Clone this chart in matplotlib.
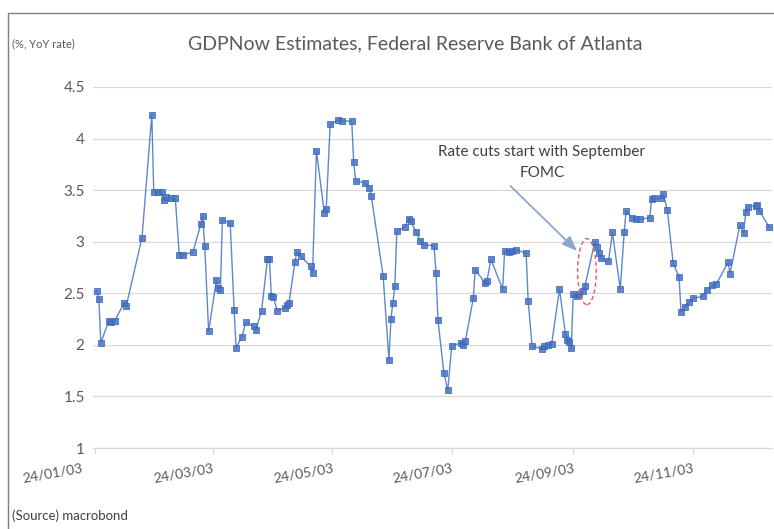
import matplotlib
matplotlib.use("Agg")
import matplotlib.pyplot as plt
import matplotlib.dates as mdates
import matplotlib.transforms as mtransforms
from matplotlib.patches import Ellipse, Rectangle
from datetime import datetime
import pandas as pd

plt.rcParams['font.family'] = ['Lato', 'DejaVu Sans']

dates = [
    "2024-01-04", "2024-01-05", "2024-01-06", "2024-01-10", "2024-01-11", "2024-01-13",
    "2024-01-18", "2024-01-19", "2024-01-27", "2024-02-01", "2024-02-02", "2024-02-04",
    "2024-02-06", "2024-02-07", "2024-02-08", "2024-02-11", "2024-02-13", "2024-02-15",
    "2024-02-17", "2024-02-22", "2024-02-26", "2024-02-27", "2024-02-28", "2024-03-01",
    "2024-03-05", "2024-03-06", "2024-03-07", "2024-03-08", "2024-03-12", "2024-03-14",
    "2024-03-15", "2024-03-18", "2024-03-20", "2024-03-24", "2024-03-25", "2024-03-28",
    "2024-03-31", "2024-04-01", "2024-04-02", "2024-04-03", "2024-04-05", "2024-04-09",
    "2024-04-10", "2024-04-11", "2024-04-14", "2024-04-15", "2024-04-17", "2024-04-22",
    "2024-04-23", "2024-04-25", "2024-04-29", "2024-04-30", "2024-05-02", "2024-05-06",
    "2024-05-08", "2024-05-13", "2024-05-14", "2024-05-15", "2024-05-20", "2024-05-22",
    "2024-05-23", "2024-05-29", "2024-06-01", "2024-06-02", "2024-06-03", "2024-06-04",
    "2024-06-05", "2024-06-09", "2024-06-11", "2024-06-12", "2024-06-15", "2024-06-17",
    "2024-06-19", "2024-06-24", "2024-06-25", "2024-06-26", "2024-06-29", "2024-07-01",
    "2024-07-03", "2024-07-08", "2024-07-09", "2024-07-10", "2024-07-14", "2024-07-15",
    "2024-07-20", "2024-07-21", "2024-07-23", "2024-07-29", "2024-07-30", "2024-08-01",
    "2024-08-03", "2024-08-05", "2024-08-10", "2024-08-11", "2024-08-13", "2024-08-18",
    "2024-08-19", "2024-08-21", "2024-08-23", "2024-08-27", "2024-08-30", "2024-08-31",
    "2024-09-01", "2024-09-02", "2024-09-03", "2024-09-05", "2024-09-06", "2024-09-08",
    "2024-09-09", "2024-09-14", "2024-09-15", "2024-09-16", "2024-09-17", "2024-09-21",
    "2024-09-23", "2024-09-27", "2024-09-29", "2024-09-30", "2024-10-03", "2024-10-05",
    "2024-10-07", "2024-10-12", "2024-10-13", "2024-10-14", "2024-10-18", "2024-10-19",
    "2024-10-21", "2024-10-24", "2024-10-27", "2024-10-28", "2024-10-30", "2024-11-01",
    "2024-11-03", "2024-11-08", "2024-11-10", "2024-11-13", "2024-11-15", "2024-11-21",
    "2024-11-22", "2024-11-27", "2024-11-29", "2024-11-30", "2024-12-01", "2024-12-05",
    "2024-12-06", "2024-12-07", "2024-12-12",
]
gdpnow = [
    2.52, 2.44, 2.02, 2.23, 2.22, 2.23,
    2.41, 2.38, 3.04, 4.23, 3.48, 3.48,
    3.48, 3.40, 3.43, 3.42, 3.42, 2.87,
    2.87, 2.90, 3.17, 3.25, 2.96, 2.13,
    2.63, 2.55, 2.53, 3.21, 3.18, 2.34,
    1.97, 2.08, 2.22, 2.18, 2.14, 2.33,
    2.83, 2.83, 2.47, 2.46, 2.33, 2.36,
    2.39, 2.41, 2.80, 2.90, 2.86, 2.76,
    2.70, 3.88, 3.28, 3.32, 4.14, 4.18,
    4.17, 4.17, 3.77, 3.59, 3.57, 3.52,
    3.44, 2.67, 1.85, 2.25, 2.41, 2.57,
    3.10, 3.14, 3.22, 3.20, 3.09, 3.01,
    2.97, 2.96, 2.70, 2.24, 1.73, 1.56,
    1.99, 2.02, 2.00, 2.04, 2.45, 2.73,
    2.60, 2.62, 2.83, 2.54, 2.91, 2.90,
    2.91, 2.92, 2.89, 2.43, 1.99, 1.96,
    1.99, 2.00, 2.01, 2.54, 2.11, 2.05,
    2.03, 1.97, 2.49, 2.47, 2.49, 2.52,
    2.57, 3.00, 2.95, 2.89, 2.84, 2.81,
    3.09, 2.54, 3.09, 3.30, 3.23, 3.22,
    3.22, 3.23, 3.41, 3.42, 3.42, 3.46,
    3.31, 2.79, 2.66, 2.32, 2.37, 2.42,
    2.45, 2.47, 2.53, 2.58, 2.59, 2.80,
    2.69, 3.16, 3.08, 3.29, 3.34, 3.35,
    3.36, 3.30, 3.14,
]
tick_dates = ["2024-01-03", "2024-03-03", "2024-05-03", "2024-07-03", "2024-09-03", "2024-11-03"]
y_ticks = [1, 1.5, 2, 2.5, 3, 3.5, 4, 4.5]
y_labels = ["1", "1.5", "2", "2.5", "3", "3.5", "4", "4.5"]

title = "GDPNow Estimates, Federal Reserve Bank of Atlanta"
unit_label = "(%, YoY rate)"
source_label = "(Source) macrobond"
note = "Rate cuts start with September\nFOMC"
note_pos = ("2024-08-18", 3.77)
arrow_start = ("2024-08-02", 3.54)
arrow_end = ("2024-09-05", 2.91)
ellipse_center = ("2024-09-10", 2.71)

x = pd.to_datetime(dates)
W, H = 774, 529
fig = plt.figure(figsize=(W / 100, H / 100), dpi=100)
fig.patch.set_facecolor("white")

ax = fig.add_axes([93 / W, 1 - 448 / H, (772 - 93) / W, (448 - 87) / H])
ax.plot(x, gdpnow, color="#4472C4", lw=1.0, alpha=0.85,
        marker="s", markersize=3.8, markerfacecolor="#4472C4",
        markeredgecolor="#3A64B4", markeredgewidth=0.6, zorder=3)

ax.set_ylim(1, 4.5)
ax.set_xlim(mdates.date2num(datetime(2024, 1, 2)), mdates.date2num(datetime(2024, 12, 13, 10)))
ax.set_yticks(y_ticks)
ax.set_yticklabels(y_labels)
ax.yaxis.grid(True, color="#D9D9D9", lw=0.9)
ax.set_axisbelow(True)
for s in ["top", "right", "left"]:
    ax.spines[s].set_visible(False)
ax.spines["bottom"].set_color("#D9D9D9")
ax.spines["bottom"].set_linewidth(0.9)
ax.tick_params(axis="y", length=0, pad=6, labelsize=11, labelcolor="#595959")

tx = pd.to_datetime(tick_dates)
tick_texts = [d.strftime("%y/%m/%d") for d in tx]
ax.set_xticks(tx)
ax.set_xticklabels([""] + tick_texts[1:], rotation=10, ha="right", rotation_mode="anchor")
ax.tick_params(axis="x", length=4, color="#D9D9D9", pad=6, labelsize=10, labelcolor="#595959")
# first label sits a little left of its tick in the reference
first_tr = ax.get_xaxis_transform() + mtransforms.ScaledTranslation(-14 / 100, -14 / 100, fig.dpi_scale_trans)
ax.text(mdates.date2num(tx[0]), 0, tick_texts[0], transform=first_tr, rotation=10,
        ha="right", va="top", rotation_mode="anchor", fontsize=10, color="#595959")

# annotation
ex = mdates.date2num(pd.to_datetime(ellipse_center[0]))
ell = Ellipse((ex, ellipse_center[1]), width=9.5, height=0.64, fill=False,
              edgecolor="#EE5A4F", lw=1.0, ls=(0, (3, 2)), zorder=4)
ax.add_patch(ell)
ax.annotate("", xy=(mdates.date2num(pd.to_datetime(arrow_end[0])), arrow_end[1]),
            xytext=(mdates.date2num(pd.to_datetime(arrow_start[0])), arrow_start[1]),
            arrowprops=dict(arrowstyle="-|>,head_length=0.9,head_width=0.35",
                            color="#8EA5D0", lw=1.3, shrinkA=0, shrinkB=0), zorder=5)
ax.text(mdates.date2num(pd.to_datetime(note_pos[0])), note_pos[1], note, ha="center", va="center",
        fontsize=11, color="#404040", linespacing=1.6)

fig.text(415 / W, 1 - 44 / H, title, ha="center", va="center", fontsize=14, color="#595959")
fig.text(12 / W, 1 - 44 / H, unit_label, ha="left", va="center", fontsize=8, color="#595959")
fig.text(12 / W, 1 - 516 / H, source_label, ha="left", va="center", fontsize=9.5, color="#404040")

fig.patches.append(Rectangle((8 / W, -0.05), 1.05, 1 - 13 / H + 0.05, transform=fig.transFigure,
                             fill=False, edgecolor="#7F7F7F", lw=1.0))

fig.savefig("out.png", dpi=100)
